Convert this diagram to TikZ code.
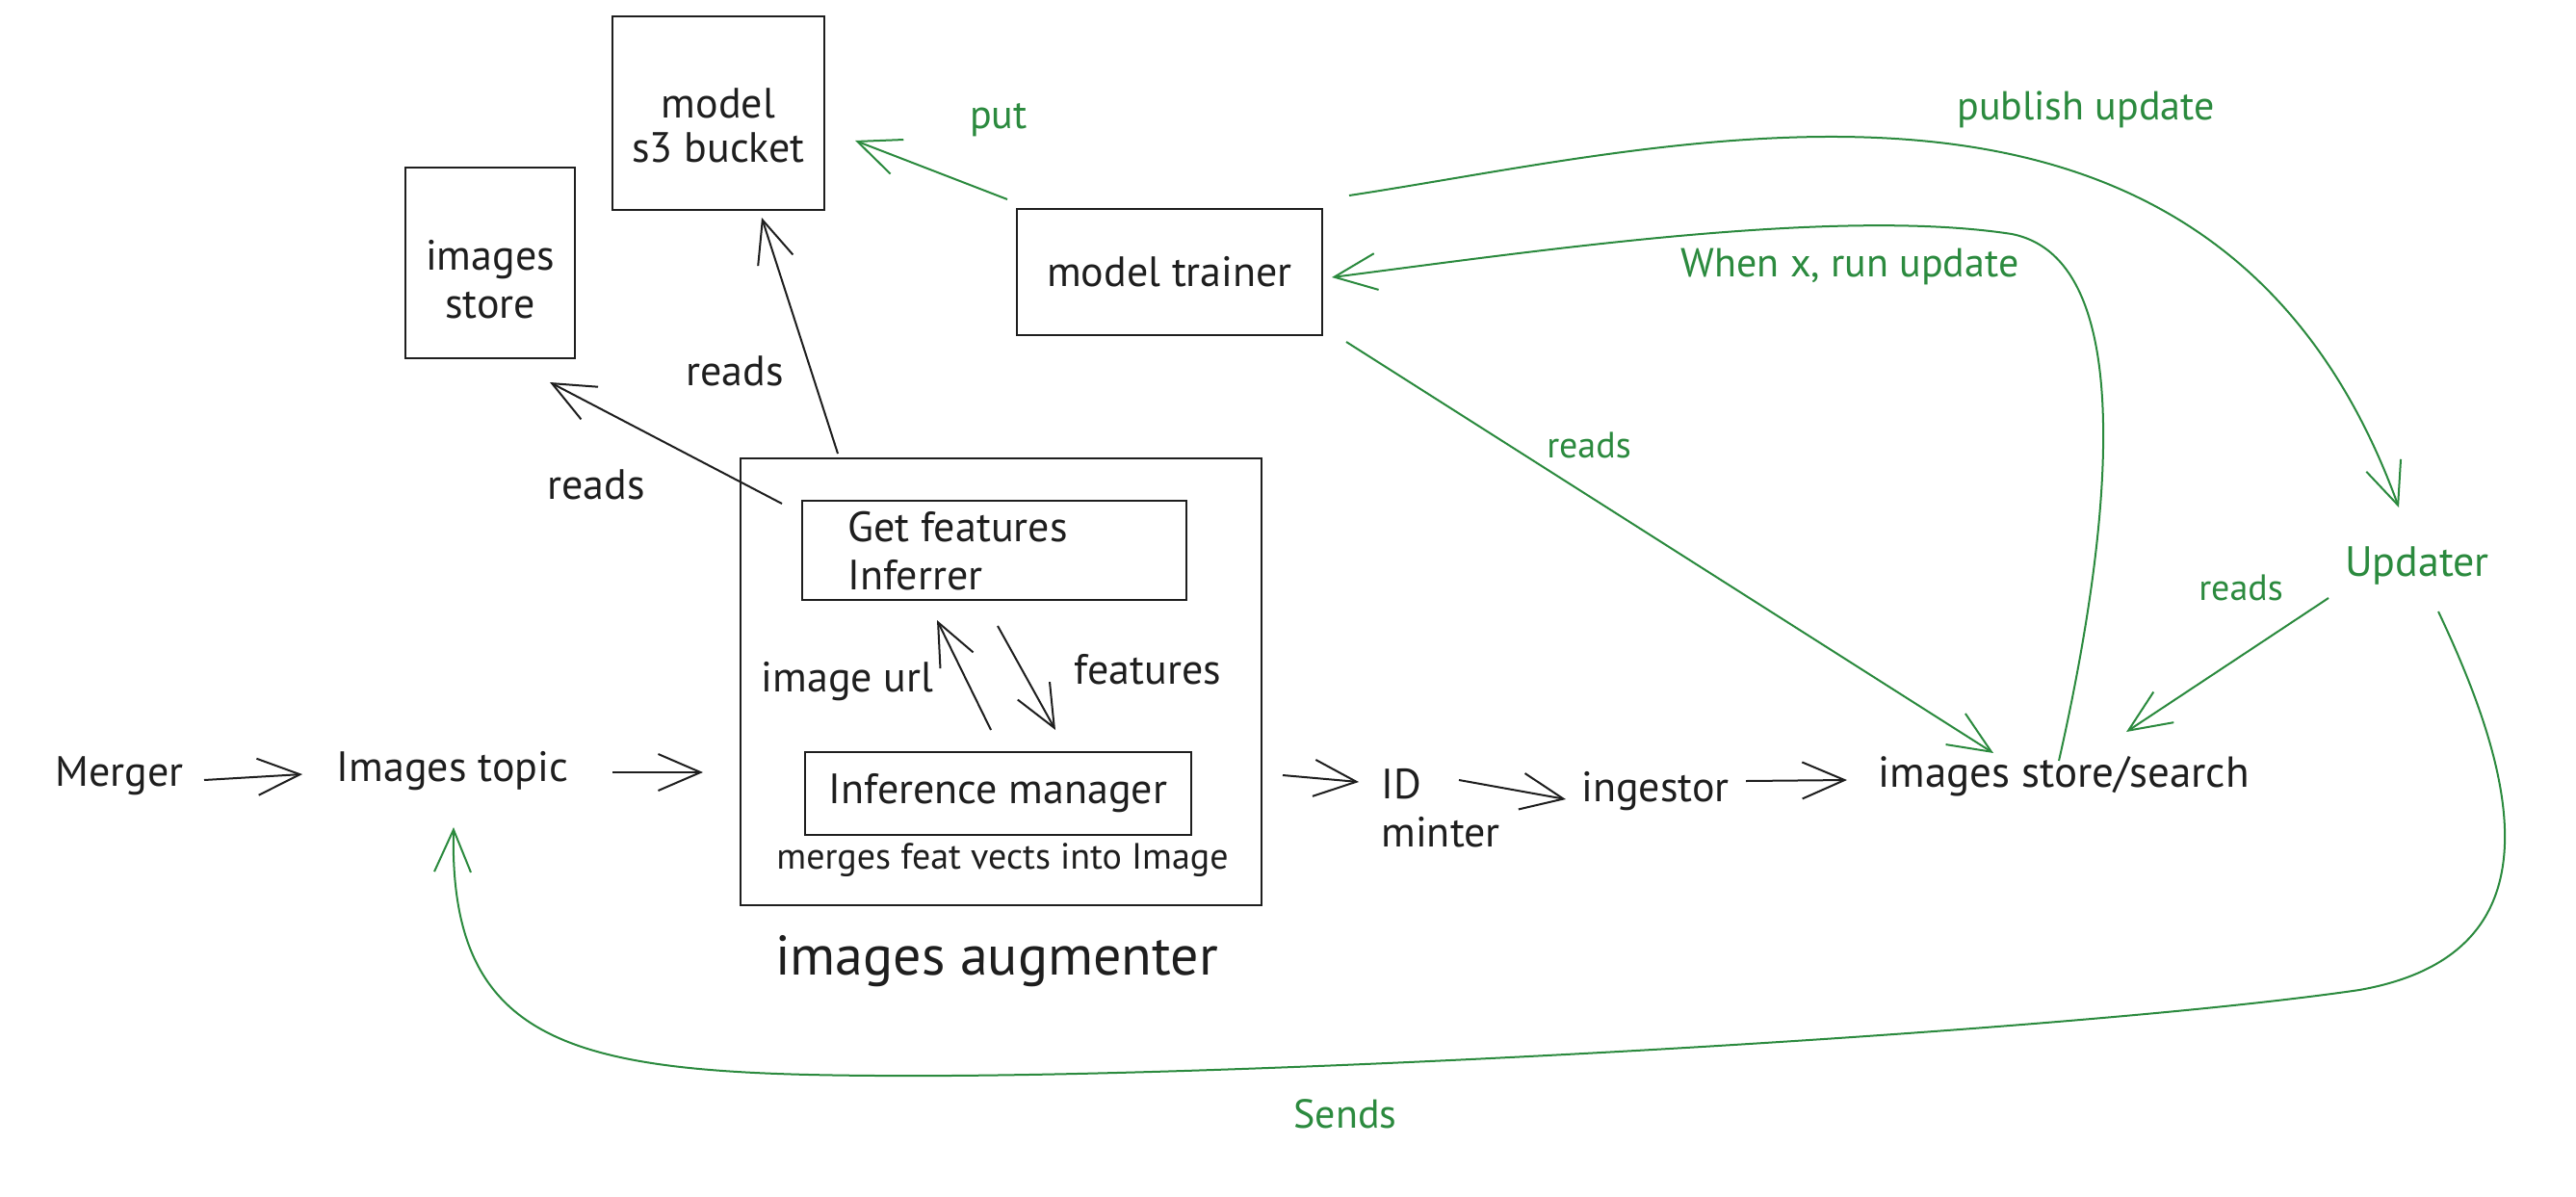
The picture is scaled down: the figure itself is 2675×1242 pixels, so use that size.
\documentclass[tikz,border=0pt]{standalone}
\usepackage{fontspec}
\setmainfont{PT Sans}
\usetikzlibrary{arrows.meta}
\definecolor{ink}{HTML}{1E1E1E}
\definecolor{grn}{HTML}{2B8A3E}
\begin{document}
\begin{tikzpicture}[x=0.5pt,y=-0.5pt,
  box/.style={draw=ink, line width=1.3pt, inner sep=0pt},
  lbl/.style={text=ink, font=\fontsize{22}{25}\selectfont, inner sep=2pt, align=center},
  glbl/.style={text=grn, font=\fontsize{21}{25}\selectfont, inner sep=2pt},
  sglbl/.style={text=grn, font=\fontsize{19}{22}\selectfont, inner sep=2pt},
  arr/.style={draw=ink, line width=1pt, -{Straight Barb[length=22pt,width=19pt]}},
  garr/.style={draw=grn, line width=1pt, -{Straight Barb[length=22pt,width=19pt]}},
]
\fill[white] (0,0) rectangle (2675,1242);
\useasboundingbox (0,0) rectangle (2675,1242);

% boxes
\node[box, minimum width=110pt, minimum height=100.5pt] (s3) at (746,117.5) {};
\node[lbl, font=\fontsize{22}{23}\selectfont] (s3text) at (746,130) {model\\s3 bucket};
\node[box, minimum width=88pt, minimum height=99pt] (imgstore) at (509,273) {};
\node[lbl] (imgstoretext) at (509,290) {images\\store};
\node[box, lbl, minimum width=158.5pt, minimum height=65.5pt] (trainer) at (1214.5,282.5) {model trainer};
\node[box, minimum width=270.5pt, minimum height=232pt] (aug) at (1039.5,708) {};
\node[box, minimum width=199.5pt, minimum height=51.5pt] (gfi) at (1032.5,571.5) {};
\node[lbl, anchor=west, align=left] (gfitext) at (876,572) {Get features\\Inferrer};
\node[box, lbl, minimum width=200.5pt, minimum height=43pt] (im) at (1036.5,824) {Inference manager};
\node[text=ink, font=\fontsize{19}{22}\selectfont] (merges) at (1041,893) {merges feat vects into Image};
\node[text=ink, font=\fontsize{29}{34}\selectfont] (auglbl) at (1035,998) {images augmenter};

% plain nodes
\node[lbl] (merger) at (124,806) {Merger};
\node[lbl] (topic) at (470,801) {Images topic};
\node[lbl, anchor=west, align=left] (idm) at (1430,839) {ID\\minter};
\node[lbl] (ingestor) at (1719,822) {ingestor};
\node[lbl, font=\fontsize{22.5}{25}\selectfont] (iss) at (2143,806) {images store/search};
\node[glbl, font=\fontsize{22}{25}\selectfont] (updater) at (2510,587) {Updater};

% labels
\node[glbl] (put) at (1037,125) {put};
\node[glbl] (publish) at (2166,114) {publish update};
\node[glbl] (whenx) at (1921,277) {When x, run update};
\node[sglbl] (readsA) at (1650,462) {reads};
\node[sglbl] (readsB) at (2327,610) {reads};
\node[glbl] (sends) at (1397,1157) {Sends};
\node[lbl] (readsC) at (763,385) {reads};
\node[lbl] (readsD) at (619,503) {reads};
\node[lbl] (imgurl) at (880,708) {image url};
\node[lbl] (features) at (1192,695) {features};

% connector end points
\coordinate (m1) at (212,810);   \coordinate (m2) at (314,804);
\coordinate (t1) at (636,802);   \coordinate (t2) at (730,802);
\coordinate (g1) at (1332,805);  \coordinate (g2) at (1411,812);
\coordinate (d1) at (1515,810);  \coordinate (d2) at (1626,830);
\coordinate (n1) at (1813,811);  \coordinate (n2) at (1918,810);
\coordinate (f1) at (812,523);   \coordinate (f2) at (571,397);
\coordinate (b1) at (870,471);   \coordinate (b2) at (791,226);
\coordinate (u1) at (1029,758);  \coordinate (u2) at (973,644);
\coordinate (v1) at (1036,650);  \coordinate (v2) at (1096,758);
\coordinate (p1) at (1046,207);  \coordinate (p2) at (888,146);
\coordinate (r1) at (1398,355);  \coordinate (r2) at (2070,782);
\coordinate (q1) at (2418,621);  \coordinate (q2) at (2208,760);
\coordinate (pu1) at (1401,203); \coordinate (pu2) at (2491,527);
\coordinate (w1) at (2138,790);  \coordinate (w2) at (1383,288);
\coordinate (s1) at (2532,635);  \coordinate (s2) at (471,859);

% black connectors
\draw[arr] (m1) -- (m2);
\draw[arr] (t1) -- (t2);
\draw[arr] (g1) -- (g2);
\draw[arr] (d1) -- (d2);
\draw[arr] (n1) -- (n2);
\draw[arr] (f1) -- (f2);
\draw[arr] (b1) -- (b2);
\draw[arr] (u1) -- (u2);
\draw[arr] (v1) -- (v2);

% green connectors
\draw[garr] (p1) -- (p2);
\draw[garr] (r1) -- (r2);
\draw[garr] (q1) -- (q2);
\draw[garr] (pu1) .. controls (1750,150) and (2300,0) .. (pu2);
\draw[garr] (w1) .. controls (2190,560) and (2225,270) .. (2089,243)
                 .. controls (1907,215) and (1600,260) .. (w2);
\draw[garr] (s1) .. controls (2610,800) and (2665,990) .. (2450,1028)
                 .. controls (2150,1072) and (1300,1120) .. (911,1117)
                 .. controls (600,1115) and (466,1090) .. (s2);
\end{tikzpicture}
\end{document}
